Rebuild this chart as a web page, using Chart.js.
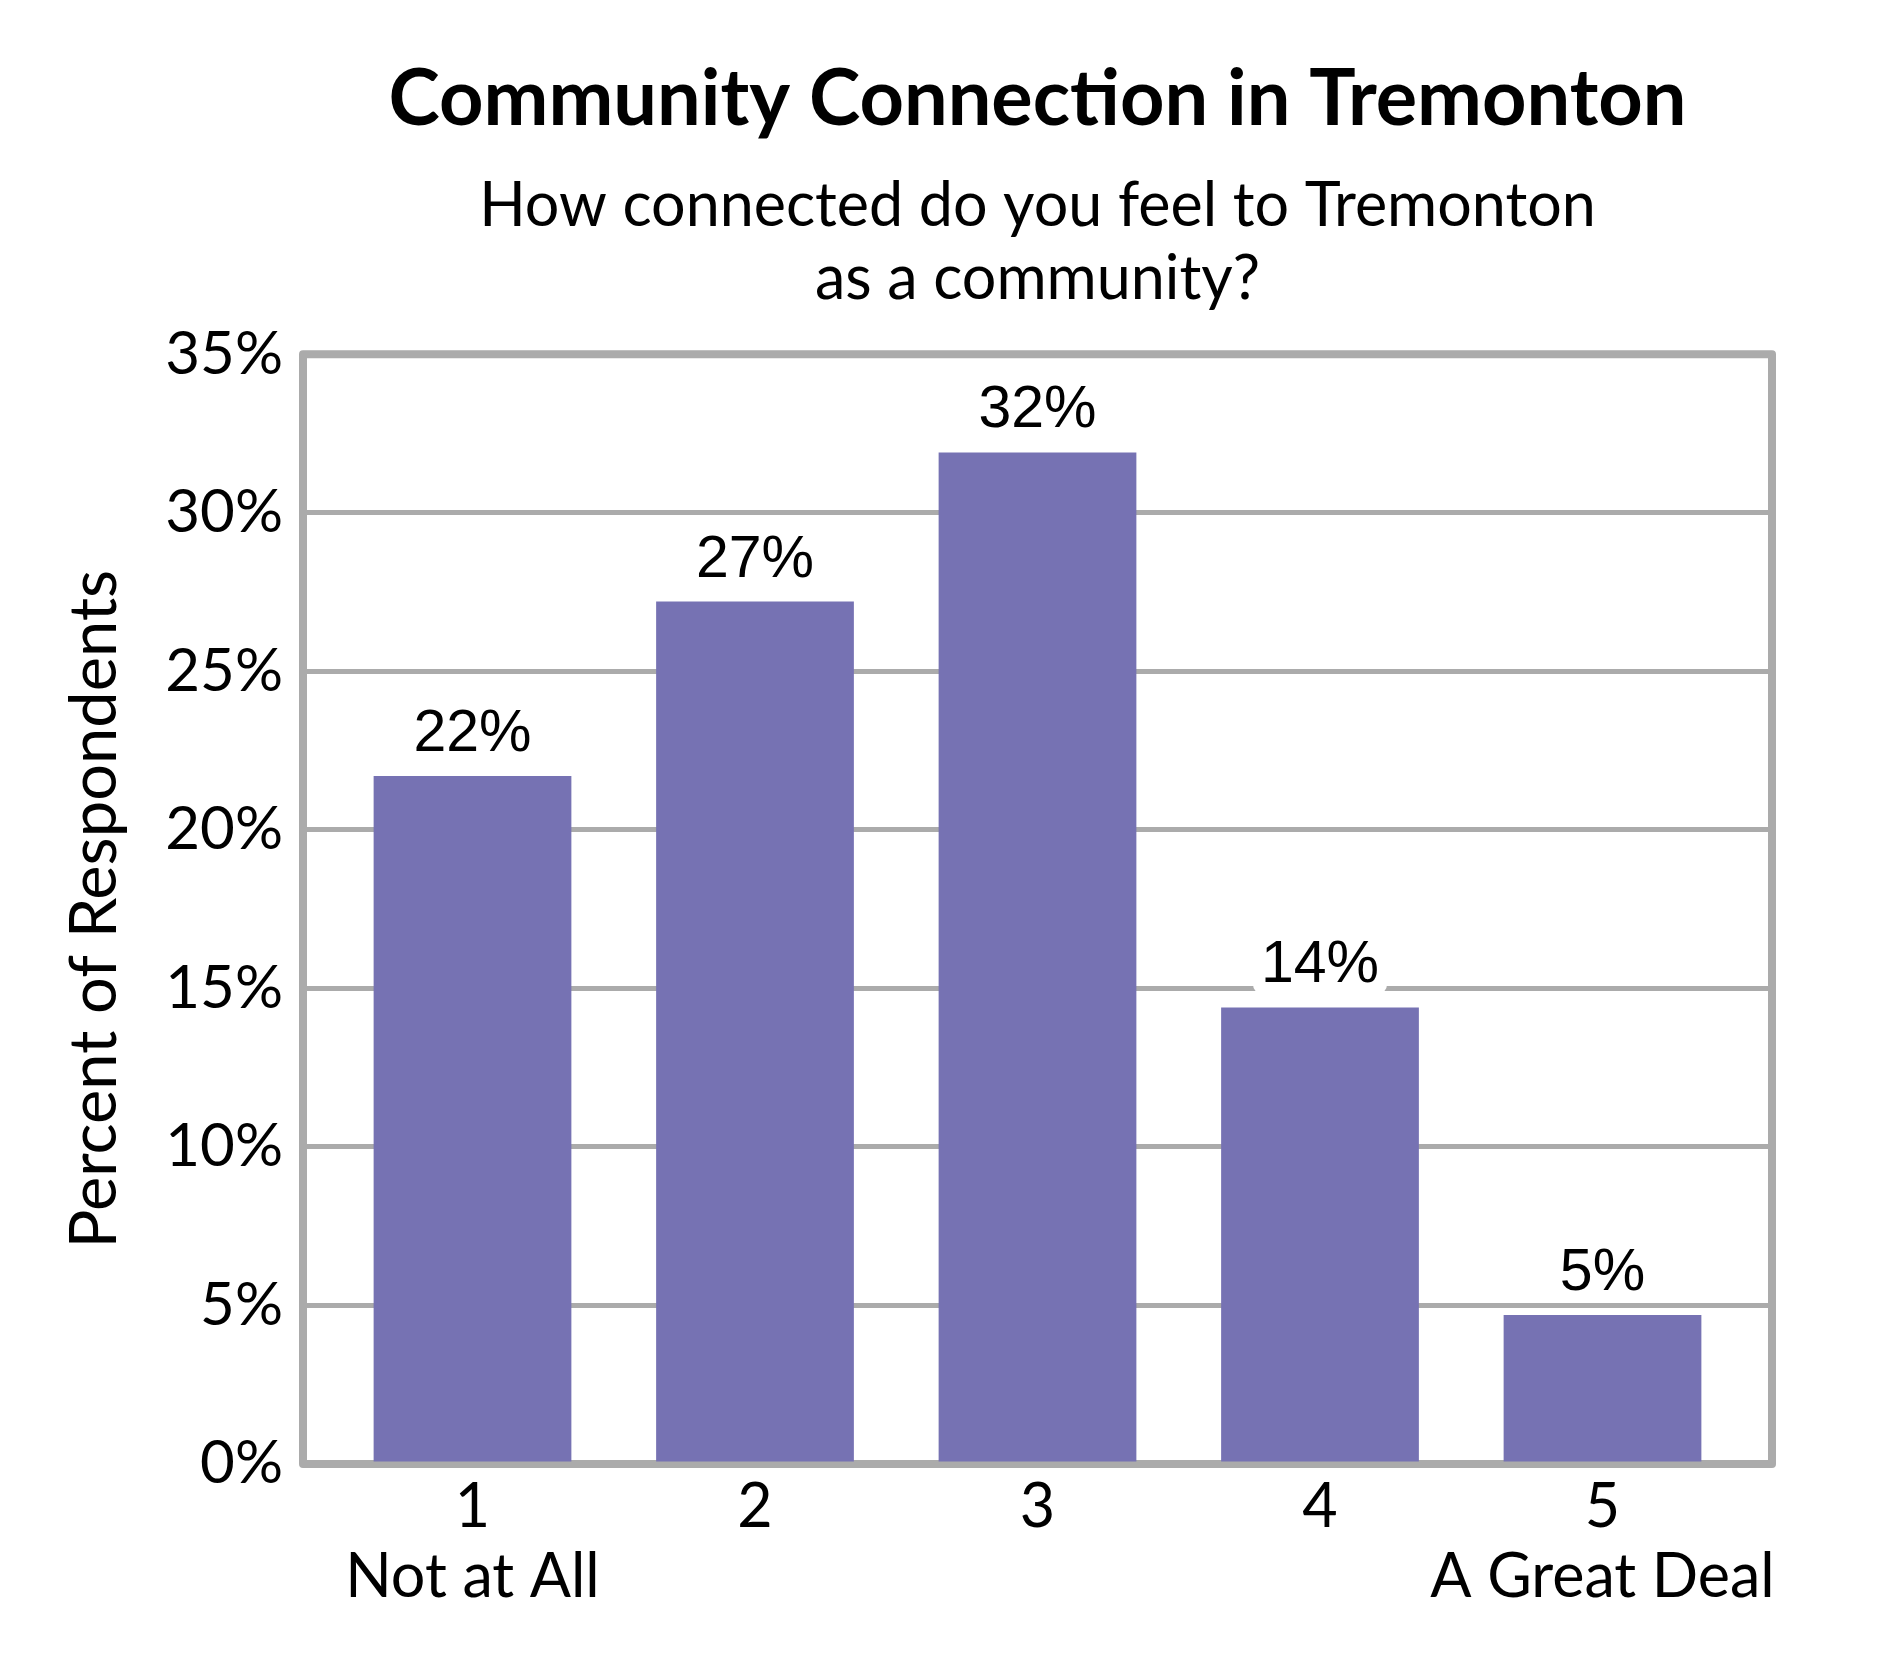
<!DOCTYPE html>
<html>
<head>
<meta charset="utf-8">
<script src="https://cdn.jsdelivr.net/npm/chart.js@4.4.1/dist/chart.umd.min.js"></script>
<style>
  html, body { margin: 0; padding: 0; background: #fff; }
  #wrap { width: 1890px; height: 1680px; }
</style>
</head>
<body>
<div id="wrap"><canvas id="chart"></canvas></div>
<script>
// Community Connection in Tremonton - 5段階の回答分布

const categories = ['1', '2', '3', '4', '5'];
const categoryNotes = ['Not at All', '', '', '', 'A Great Deal'];
const percents = [21.7, 27.2, 31.9, 14.4, 4.7];
const valueLabels = ['22%', '27%', '32%', '14%', '5%'];
const yTicks = [0, 5, 10, 15, 20, 25, 30, 35];

const BAR_COLOR = '#7672b3';
const GRID_COLOR = '#ababab';

/** 枠線（チャートエリアの四辺） */
const framePlugin = {
  id: 'frame',
  beforeDatasetsDraw(chart) {
    const { ctx, chartArea: a } = chart;
    ctx.save();
    ctx.strokeStyle = GRID_COLOR;
    ctx.lineWidth = 8;
    ctx.lineJoin = 'round';
    ctx.strokeRect(a.left, a.top, a.right - a.left, a.bottom - a.top);
    ctx.restore();
  }
};

/** 棒の上の値ラベル（白背景つき） */
const valueLabelPlugin = {
  id: 'valueLabels',
  afterDatasetsDraw(chart) {
    const { ctx } = chart;
    const meta = chart.getDatasetMeta(0);
    ctx.save();
    ctx.font = '59px "Liberation Sans", Arial, sans-serif';
    ctx.textAlign = 'center';
    ctx.textBaseline = 'alphabetic';
    meta.data.forEach((bar, i) => {
      const text = valueLabels[i];
      const w = ctx.measureText(text).width;
      const base = bar.y - 25;
      ctx.fillStyle = '#fff';
      ctx.beginPath();
      ctx.roundRect(bar.x - w / 2 - 8, base - 46, w + 16, 58, 10);
      ctx.fill();
      ctx.fillStyle = '#000';
      ctx.fillText(text, bar.x, base);
    });
    ctx.restore();
  }
};

new Chart(document.getElementById('chart'), {
  type: 'bar',
  data: {
    datasets: [{
      data: percents.map((v, i) => ({ x: i + 1, y: v })),
      backgroundColor: BAR_COLOR,
      borderWidth: 0,
      barPercentage: 0.70,
      categoryPercentage: 1.0
    }]
  },
  plugins: [framePlugin, valueLabelPlugin],
  options: {
    responsive: true,
    maintainAspectRatio: false,
    devicePixelRatio: 1,
    animation: false,
    layout: { padding: { left: 0, right: 118, top: 0, bottom: 0 } },
    plugins: {
      legend: { display: false },
      tooltip: { enabled: false },
      title: {
        display: true,
        fullSize: false,
        text: 'Community Connection in Tremonton',
        color: '#000',
        font: { family: 'Lato', size: 77.5, weight: 'bold', lineHeight: 1.2 },
        padding: { top: 53, bottom: 24 }
      },
      subtitle: {
        display: true,
        fullSize: false,
        text: ['How connected do you feel to Tremonton', 'as a community?'],
        color: '#000',
        font: { family: 'Lato', size: 61, weight: 'normal', lineHeight: 1.19 },
        padding: { top: 0, bottom: 39 }
      }
    },
    scales: {
      x: {
        type: 'linear',
        min: 0.4,
        max: 5.6,
        offset: false,
        grid: { display: false, offset: false },
        border: { display: false },
        afterBuildTicks(scale) {
          scale.ticks = categories.map((c, i) => ({ value: i + 1 }));
        },
        afterFit(scale) { scale.height = 216; },
        ticks: {
          autoSkip: false,
          maxRotation: 0,
          padding: 0,
          color: '#000',
          font: { family: 'Lato', size: 61, lineHeight: 1.15 },
          callback(value) {
            const i = Math.round(value) - 1;
            return categoryNotes[i] ? [categories[i], categoryNotes[i]] : categories[i];
          }
        }
      },
      y: {
        min: 0,
        max: 35,
        afterBuildTicks(scale) {
          scale.ticks = yTicks.map(v => ({ value: v }));
        },
        afterFit(scale) { scale.width = 303; },
        grid: { color: GRID_COLOR, lineWidth: 5, drawTicks: false },
        border: { display: false },
        ticks: {
          padding: 20,
          color: '#000',
          font: { family: 'Lato', size: 60 },
          callback(v) { return v + '%'; }
        },
        title: {
          display: true,
          text: 'Percent of Respondents',
          color: '#000',
          font: { family: 'Lato', size: 65, lineHeight: 1 },
          padding: { top: 63, bottom: 0 }
        }
      }
    }
  }
});
</script>
</body>
</html>
